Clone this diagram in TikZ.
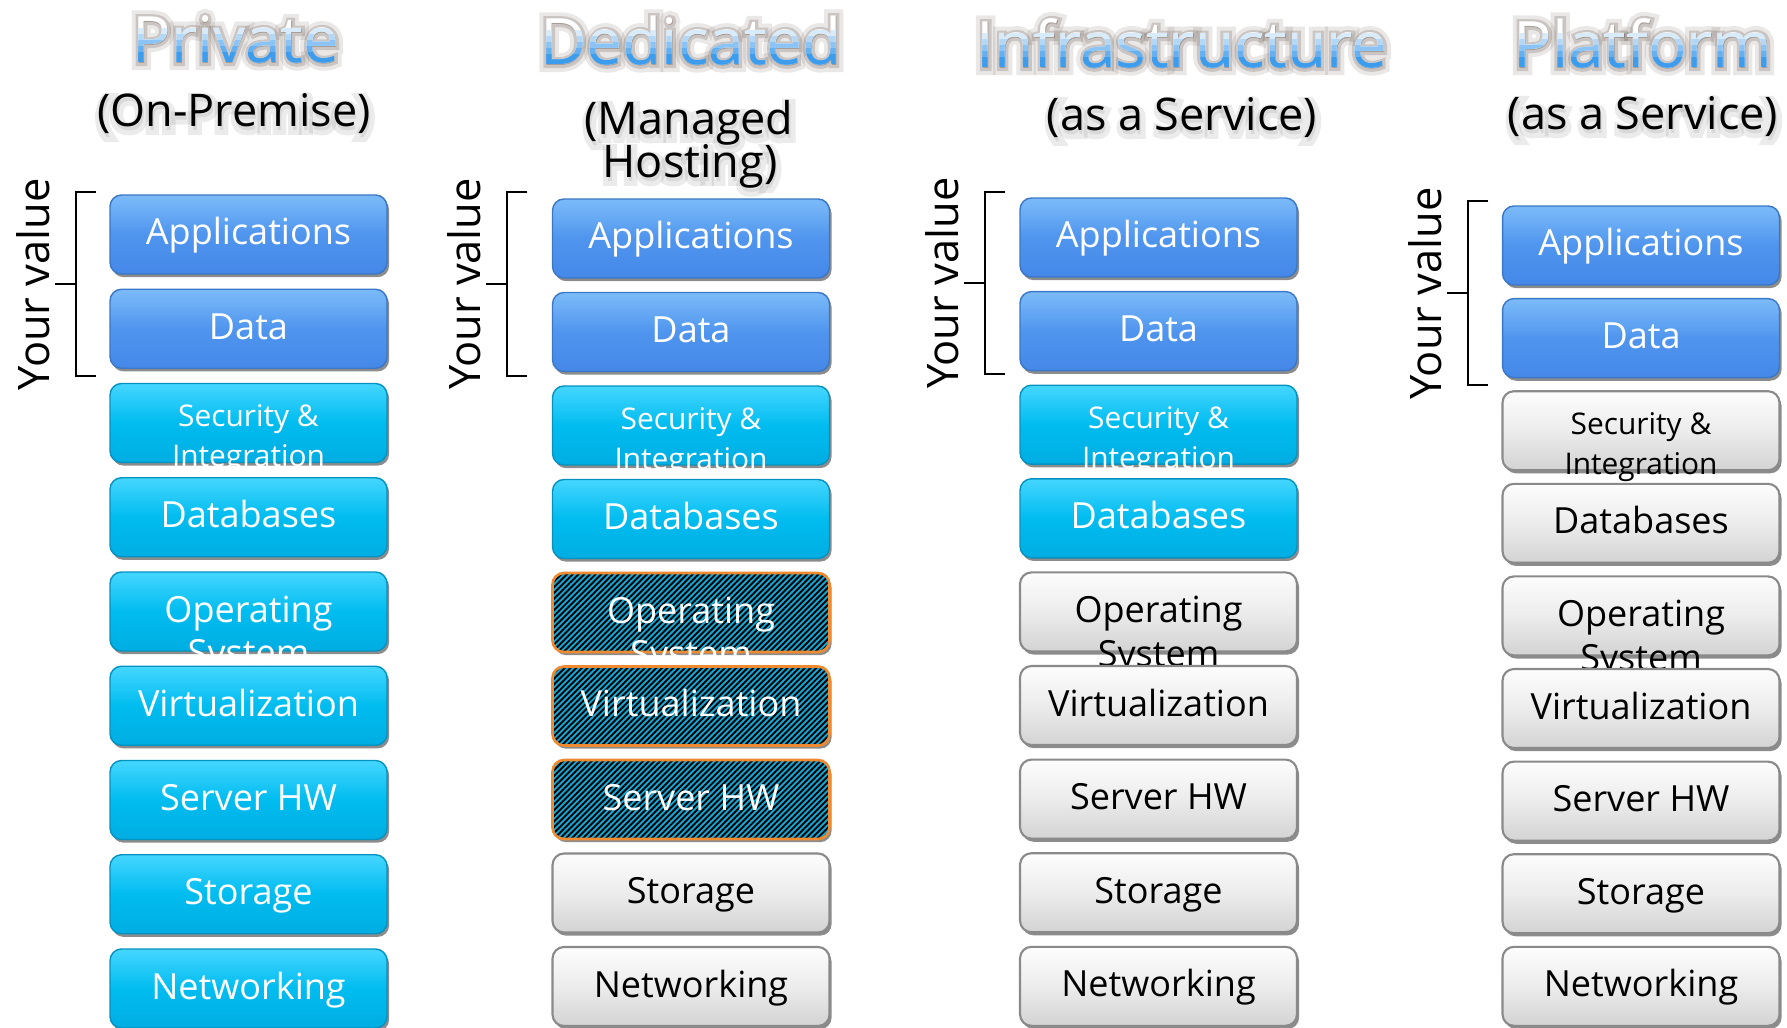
\documentclass[tikz,border=0pt]{standalone}
\usepackage{fontspec}
\setmainfont{Open Sans}
\newfontfamily\glowthin[FakeBold=10]{Open Sans}
\newfontfamily\glowwide[FakeBold=22]{Open Sans}
\usepackage{tikz}
\usetikzlibrary{calc, positioning, shadows, patterns.meta}

\definecolor{blutop}{HTML}{7CBBF9}
\definecolor{blumid}{HTML}{4F95EE}
\definecolor{blubot}{HTML}{4588E8}
\definecolor{bluline}{HTML}{3A77C6}
\definecolor{cyntop}{HTML}{45D6FF}
\definecolor{cynmid}{HTML}{00BCEF}
\definecolor{cynbot}{HTML}{00ADE2}
\definecolor{cynline}{HTML}{0493C0}
\definecolor{grytop}{HTML}{FDFDFD}
\definecolor{grymid}{HTML}{ECECEC}
\definecolor{grybot}{HTML}{D3D3D3}
\definecolor{gryline}{HTML}{8A8A8A}
\definecolor{hatfill}{HTML}{12AAD8}
\definecolor{hatline}{HTML}{F08A30}
\definecolor{ttlblue}{HTML}{3E9CEC}
\definecolor{glowc}{HTML}{5A4A40}

% 两行文字,基线取第一行
\newcommand{\twol}[2]{\begin{tabular}[t]{@{}c@{}}#1\\#2\end{tabular}}

\begin{document}
\begin{tikzpicture}[
  x=0.02cm, y=-0.02cm, % 1 单位 = 参考图 1 像素,y 向下
  layer/.style={rounded corners=6.5pt, minimum width=5.54cm, minimum height=1.58cm,
                inner sep=0pt, align=center, font=\fontsize{20.5}{25}\selectfont,
                text height=1.0cm, text depth=0.58cm,
                drop shadow={shadow xshift=1.2pt, shadow yshift=-1.8pt, opacity=0.45, fill=black}},
  blu/.style={layer, draw=bluline, line width=0.8pt, top color=blutop, bottom color=blubot,
              middle color=blumid, text=white},
  cyn/.style={layer, draw=cynline, line width=0.8pt, top color=cyntop, bottom color=cynbot,
              middle color=cynmid, text=white},
  gry/.style={layer, draw=gryline, line width=1.2pt, top color=grytop, bottom color=grybot,
              middle color=grymid, text=black},
  hat/.style={layer, draw=hatline, line width=1.5pt, preaction={fill=hatfill},
              pattern={Lines[angle=45, distance=2.3pt, line width=1.1pt]},
              pattern color=black, text=white},
  sec/.style={font=\fontsize{17}{22.8}\selectfont, text height=0.86cm, text depth=0.72cm},
  cynsec/.style={cyn, sec},
  grysec/.style={gry, sec},
  brace/.style={line width=1.2pt},
  vlabel/.style={font=\fontsize{24.7}{28}\selectfont, rotate=90, anchor=base, inner sep=0pt},
  ttl/.style={font=\fontsize{36.4}{40}\selectfont, anchor=base, inner sep=0pt},
  subttl/.style={font=\fontsize{25.6}{29}\selectfont, anchor=base, inner sep=0pt}
]
  \useasboundingbox (0,0) rectangle (1787,1027);

  \def\boxh{79}   % 框高(像素)

  % 一列叠放的层:前缀, 中心 x, 顶端 y, 间距, 层列表
  \newcommand{\stackcol}[5]{%
    \foreach \sty/\txt [count=\j] in {#5} {%
      \node[\sty] (#1-\j) at (#2,{#3+(\j-1)*#4+\boxh/2}) {\txt};
    }
  }

  % 左侧括号与 "Your value":前缀, 竖线到框距离, 上端超出, 下端超出
  \newcommand{\yourval}[4]{%
    \coordinate (#1-bt) at ($(#1-1.north west)+(-#2,-#3)$);
    \coordinate (#1-bb) at ($(#1-2.south west)+(-#2,#4)$);
    \coordinate (#1-bm) at ($(#1-bt)!0.5!(#1-bb)$);
    \draw[brace] ($(#1-bt)+(20,0)$) -- (#1-bt) -- (#1-bb) -- ($(#1-bb)+(20,0)$);
    \draw[brace] (#1-bm) -- ($(#1-bm)+(-21,0)$);
    \node[vlabel] (#1-yv) at ($(#1-bm)+(-27,0)$) {Your value};
  }

  % 渐变标题:白色到蓝色,外加暗色光晕
  \newcommand{\gradtitle}[4]{%
    \node[ttl, text=glowc, opacity=0.13, font=\glowwide\fontsize{36.4}{40}\selectfont] (#1-gw) at (#2,#3) {#4};
    \node[ttl, text=glowc, opacity=0.22, font=\glowthin\fontsize{36.4}{40}\selectfont] (#1-gt) at (#2,#3) {#4};
    \node[ttl, text=white] (#1) at (#2,#3) {#4};
    \foreach \k in {1,...,5} {%
      \pgfmathtruncatemacro{\pct}{\k*100/5}
      \begin{scope}
        \clip (#2-330,{#3-40+\k*6}) rectangle (#2+330,#3+30);
        \node[ttl, text=ttlblue!\pct!white] (#1-\k) at (#2,#3) {#4};
      \end{scope}
    }
  }

  % 副标题(淡阴影)
  \newcommand{\subttl}[4]{%
    \node[subttl, text=black, opacity=0.08, font=\glowwide\fontsize{25.6}{29}\selectfont] (#1-s) at ($(#2,#3)+(1,3)$) {#4};
    \node[subttl] (#1) at (#2,#3) {#4};
  }

  % 标题
  \gradtitle{ttl1}{236}{63}{Private}
  \gradtitle{ttl2}{691}{65}{Dedicated}
  \gradtitle{ttl3}{1182}{68}{Infrastructure}
  \gradtitle{ttl4}{1643}{68}{Platform}

  \subttl{sub1}{234}{127}{(On-Premise)}
  \subttl{sub2}{689}{135}{(Managed}
  \subttl{sub2b}{690}{178}{Hosting)}
  \subttl{sub3}{1182}{131}{(as a Service)}
  \subttl{sub4}{1643}{130}{(as a Service)}

  % 四列
  \stackcol{p}{248.5}{195}{94.25}{blu/Applications, blu/Data,
    cynsec/{\twol{Security \&}{Integration}}, cyn/Databases,
    cyn/{\twol{Operating}{System}}, cyn/Virtualization, cyn/Server HW,
    cyn/Storage, cyn/Networking}
  \stackcol{d}{691}{199}{93.5}{blu/Applications, blu/Data,
    cynsec/{\twol{Security \&}{Integration}}, cyn/Databases,
    hat/{\twol{Operating}{System}}, hat/Virtualization, hat/Server HW,
    gry/Storage, gry/Networking}
  \stackcol{i}{1158.5}{198}{93.6}{blu/Applications, blu/Data,
    cynsec/{\twol{Security \&}{Integration}}, cyn/Databases,
    gry/{\twol{Operating}{System}}, gry/Virtualization, gry/Server HW,
    gry/Storage, gry/Networking}
  \stackcol{f}{1641}{206}{92.6}{blu/Applications, blu/Data,
    grysec/{\twol{Security \&}{Integration}}, gry/Databases,
    gry/{\twol{Operating}{System}}, gry/Virtualization, gry/Server HW,
    gry/Storage, gry/Networking}

  % 括号
  \yourval{p}{33}{2}{7}
  \yourval{d}{44.5}{6}{3.5}
  \yourval{i}{34}{5}{2.5}
  \yourval{f}{33.5}{4}{7}
\end{tikzpicture}
\end{document}
